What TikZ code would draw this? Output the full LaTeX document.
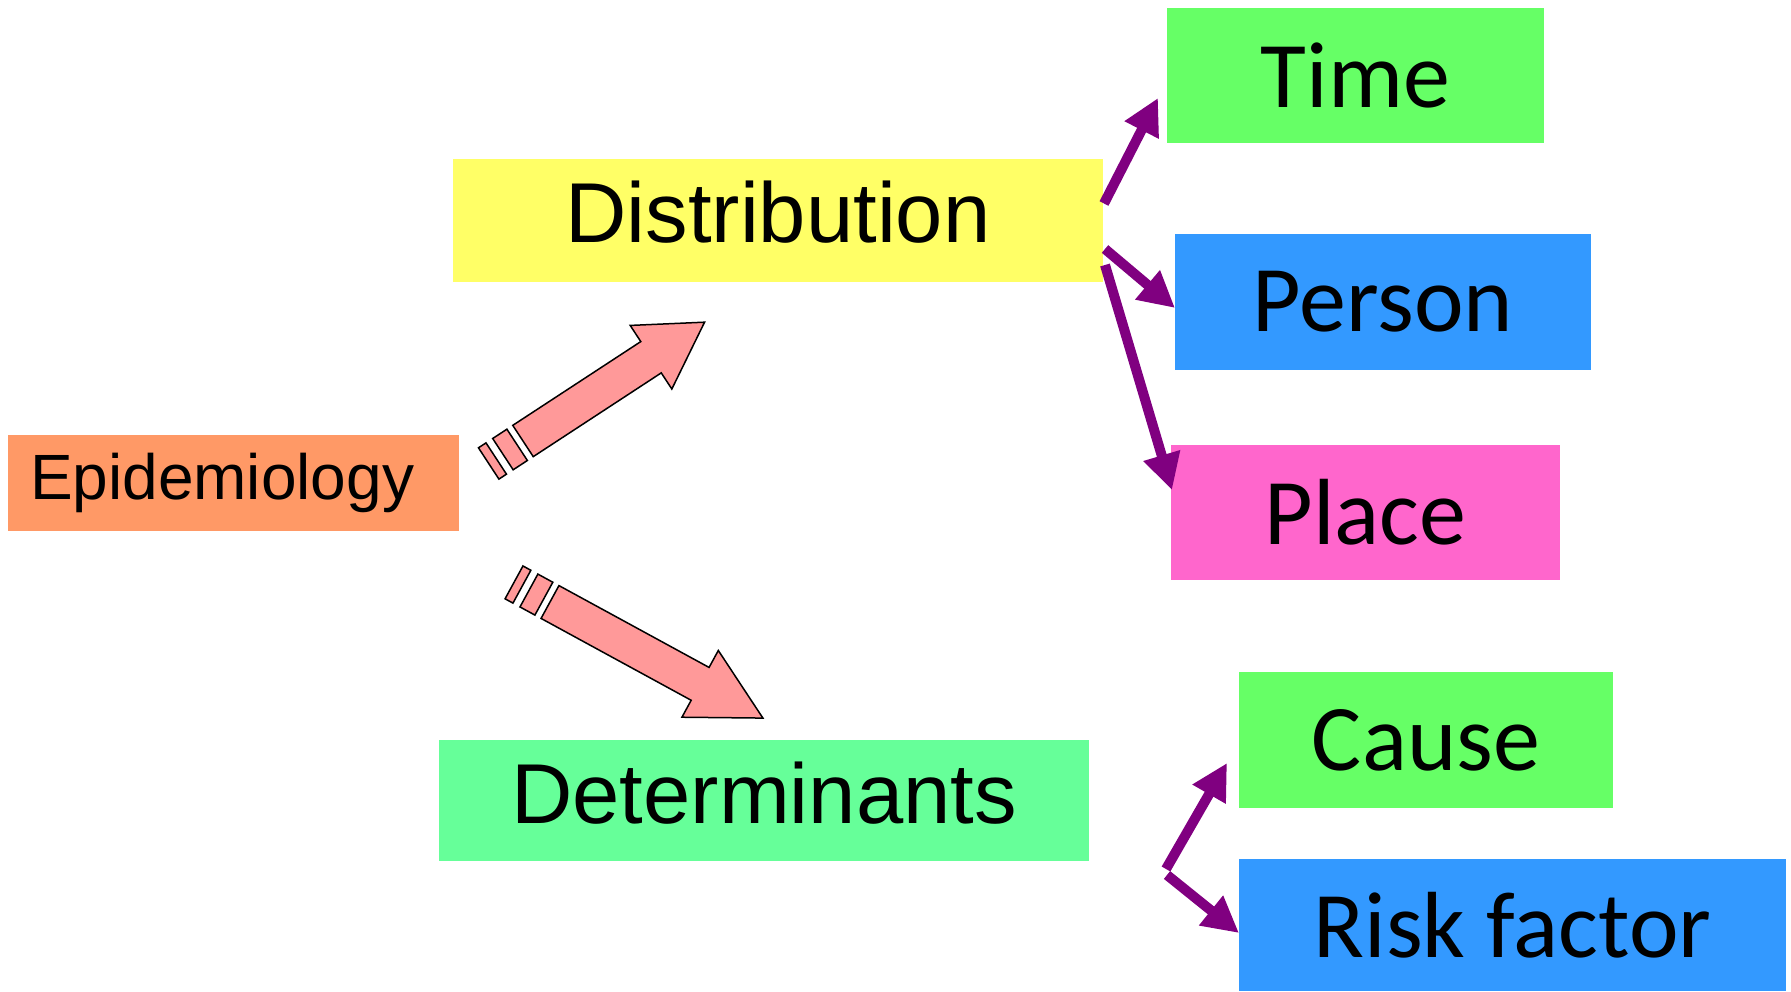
\documentclass[tikz,border=0pt]{standalone}
\usepackage{fontspec}
\usetikzlibrary{arrows.meta}
\newfontfamily\arialfont{Liberation Sans}
\newfontfamily\calibrifont{Carlito}
\definecolor{epiorange}{HTML}{FF9966}
\definecolor{distyellow}{HTML}{FFFF66}
\definecolor{leafgreen}{HTML}{66FF66}
\definecolor{leafblue}{HTML}{3399FF}
\definecolor{leafpink}{HTML}{FF66CC}
\definecolor{detmint}{HTML}{66FF99}
\definecolor{arrowpink}{HTML}{FF9999}
\definecolor{arrowpurple}{HTML}{800080}

\tikzset{
  box/.style={inner sep=0pt, outer sep=0pt, anchor=center},
  headbox/.style={box, font=\arialfont\fontsize{85}{100}\selectfont, text depth=16pt},
  leafbox/.style={box, font=\calibrifont\fontsize{94}{110}\selectfont},
  conn/.style={draw=arrowpurple, line width=10pt, -{Triangle[length=36pt,width=36pt]}},
  blockarrow/.style={draw=black, line width=1.5pt, fill=arrowpink, line join=miter},
}

% striped block arrow along +x: #1 head base, #2 tip
\newcommand{\stripedarrow}[2]{%
  \draw[blockarrow] (0,-18.7) -- (#1,-18.7) -- (#1,-38) -- (#2,0)
    -- (#1,38) -- (#1,18.7) -- (0,18.7) -- cycle;
  \draw[blockarrow] (-24,-18.7) rectangle (-7,18.7);
  \draw[blockarrow] (-41,-18.7) rectangle (-32,18.7);
}

\begin{document}
\begin{tikzpicture}[x=1pt, y=-1pt]
  \useasboundingbox (0,0) rectangle (1791,991);

  % main boxes
  \node[headbox, fill=epiorange, minimum width=451pt, minimum height=96pt,
        text width=407pt, inner xsep=22pt, align=left, text depth=13pt,
        font=\arialfont\fontsize{64}{70}\selectfont] (epi) at (233.5,483) {Epidemiology};
  \node[headbox, fill=distyellow, minimum width=650pt, minimum height=123pt] (dist) at (778,220) {Distribution};
  \node[headbox, fill=detmint, minimum width=650pt, minimum height=121pt] (det) at (764,800.5) {Determinants};

  % leaves
  \node[leafbox, fill=leafgreen, minimum width=377pt, minimum height=135pt] (time) at (1355.5,75.5) {Time};
  \node[leafbox, fill=leafblue, minimum width=416pt, minimum height=136pt] (person) at (1383,302) {Person};
  \node[leafbox, fill=leafpink, minimum width=389pt, minimum height=135pt] (place) at (1365.5,512.5) {Place};
  \node[leafbox, fill=leafgreen, minimum width=374pt, minimum height=136pt] (cause) at (1426,740) {Cause};
  \node[leafbox, fill=leafblue, minimum width=547pt, minimum height=132pt] (risk) at (1512.5,925) {Risk factor};

  % striped arrows
  \begin{scope}[shift={(523,441)}, rotate=33.2]
    \stripedarrow{153}{217}
  \end{scope}
  \begin{scope}[shift={(550,602)}, rotate=-28.6]
    \stripedarrow{171}{242.5}
  \end{scope}

  % purple connectors
  \draw[conn] ([shift={(1,-16.5)}]dist.east) -- ([shift={(-9,22.5)}]time.west);
  \draw[conn] ([shift={(2,29)}]dist.east) -- ([shift={(0,6)}]person.west);
  \draw[conn] ([shift={(2,45)}]dist.east) -- ([shift={(1,-22.5)}]place.west);

  \coordinate (forkup) at ([shift={(77,68.5)}]det.east);
  \coordinate (forkdown) at ([shift={(78,74.5)}]det.east);
  \draw[conn] (forkup) -- ([shift={(-12,23)}]cause.west);
  \draw[conn] (forkdown) -- ([shift={(0,8)}]risk.west);
\end{tikzpicture}
\end{document}
